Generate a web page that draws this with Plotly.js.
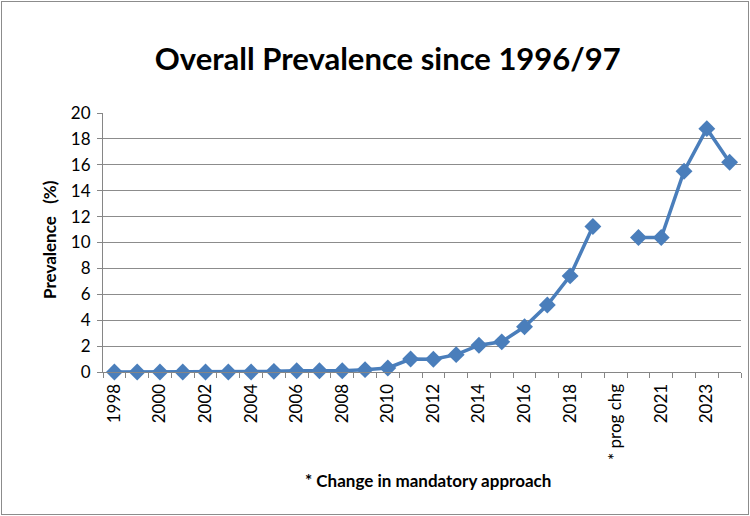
<!DOCTYPE html>
<html>
<head>
<meta charset="utf-8">
<script src="https://cdn.plot.ly/plotly-3.0.1.min.js"></script>
<style>
html,body{margin:0;padding:0;background:#fff;}
#wrap{position:relative;width:750px;height:516px;}
#chart{width:750px;height:516px;}
#frame{position:absolute;left:1px;top:1px;width:746px;height:512px;border:1px solid #8c8c8c;pointer-events:none;}
</style>
</head>
<body>
<div id="wrap"><div id="chart"></div><div id="frame"></div></div>
<script>
const categories = ["1998","1999","2000","2001","2002","2003","2004","2005","2006","2007",
  "2008","2009","2010","2011","2012","2013","2014","2015","2016","2017",
  "2018","2019","* prog chg","2020","2021","2022","2023","2024"];
const prevalence = [0,0,0,0,0,0,0,0.05,0.1,0.1,
  0.1,0.18,0.31,1.0,0.98,1.34,2.07,2.33,3.49,5.17,
  7.42,11.24,null,10.39,10.39,15.5,18.79,16.2];
const yTicks = [0,2,4,6,8,10,12,14,16,18,20];

const tickText = categories.map((c,i)=> i%2===0 ? c : "");

const font = "Lato, 'Open Sans', sans-serif";

Plotly.newPlot("chart", [{
  type: "scatter",
  mode: "lines+markers",
  x: categories,
  y: prevalence,
  connectgaps: false,
  cliponaxis: false,
  line: {color: "#4A7EBB", width: 3.5},
  marker: {symbol: "diamond", size: 13, color: "#4A7EBB"},
  hoverinfo: "skip"
}], {
  width: 750, height: 516, autosize: false,
  paper_bgcolor: "#fff", plot_bgcolor: "#fff",
  margin: {l: 103, r: 9, t: 113, b: 144, pad: 0, autoexpand: false},
  showlegend: false,
  title: {text: "<b>Overall Prevalence since 1996/97</b>", x: 0.517, xanchor: "center",
          y: 0.885, yanchor: "middle", font: {family: font, size: 31, color: "#000"}},
  xaxis: {
    type: "category", automargin: false,
    categoryorder: "array", categoryarray: categories,
    range: [-0.5, categories.length - 0.5],
    tickvals: categories, ticktext: tickText,
    tickson: "boundaries",
    ticks: "outside", ticklen: 5, tickcolor: "#868686", tickwidth: 1,
    tickangle: -90, ticklabelstandoff: 4,
    showline: true, linecolor: "#868686", linewidth: 1,
    showgrid: false, zeroline: false,
    tickfont: {family: font, size: 17, color: "#000"}
  },
  yaxis: {
    automargin: false,
    range: [0, 20], tickvals: yTicks,
    ticks: "outside", ticklen: 5, tickcolor: "#868686",
    showline: true, linecolor: "#868686", linewidth: 1,
    showgrid: true, gridcolor: "#8c8c8c", gridwidth: 1,
    zeroline: false, ticklabelstandoff: 3,
    tickfont: {family: font, size: 17, color: "#000"}
  },
  annotations: [
    {text: "<b>* Change in mandatory approach</b>", xref: "paper", yref: "paper",
     x: 0.51, y: -0.42, xanchor: "center", yanchor: "middle", showarrow: false,
     font: {family: font, size: 17, color: "#000"}},
    {text: "<b>Prevalence   (%)</b>", xref: "paper", yref: "paper",
     x: -0.083, y: 0.51, xanchor: "center", yanchor: "middle", textangle: -90, showarrow: false,
     font: {family: font, size: 17, color: "#000"}}
  ]
}, {staticPlot: true});
</script>
</body>
</html>
